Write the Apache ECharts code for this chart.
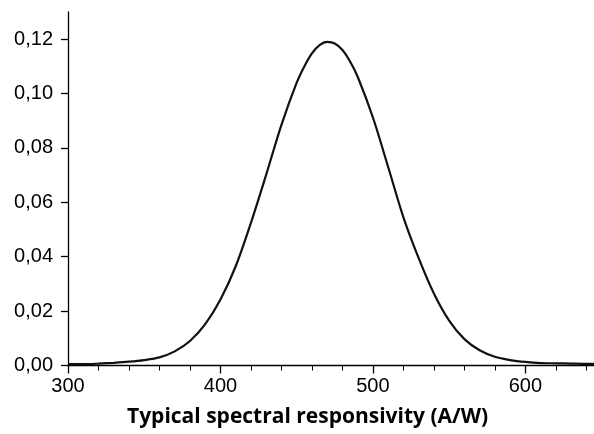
<!DOCTYPE html>
<html>
<head>
<meta charset="utf-8">
<script src="https://cdn.jsdelivr.net/npm/echarts@6/dist/echarts.min.js"></script>
<style>
  html, body { margin: 0; padding: 0; background: #fff; }
  #main { width: 594px; height: 434px; }
</style>
</head>
<body>
<div id="main"></div>
<script>
// wavelength (nm) and responsivity
var wavelengths = [300, 310, 320, 330, 340, 350, 360, 370, 380, 390, 400, 410, 420, 430, 440, 450, 455, 460, 465, 470,
  475, 480, 485, 490, 500, 510, 520, 530, 540, 550, 560, 570, 580, 590, 600, 610, 620, 630, 640, 645];
var responsivity = [0.0005, 0.0005, 0.0007, 0.0010, 0.0014, 0.0020, 0.0030, 0.0052, 0.0090, 0.0152, 0.0243, 0.0365, 0.0525, 0.0702, 0.0885, 0.1040, 0.1100, 0.1148, 0.1178, 0.1190,
  0.1184, 0.1160, 0.1118, 0.1062, 0.0912, 0.0730, 0.0545, 0.0395, 0.0265, 0.0165, 0.0097, 0.0056, 0.0032, 0.0020, 0.0013, 0.0009, 0.0008, 0.0007, 0.0006, 0.0006];
var xTicks = [300, 400, 500, 600];
var yTicks = [0, 0.02, 0.04, 0.06, 0.08, 0.10, 0.12];
var xTitle = 'Typical spectral responsivity (A/W)';

var chart = echarts.init(document.getElementById('main'), null, { renderer: 'canvas' });

var seriesData = [];
for (var i = 0; i < wavelengths.length; i++) {
  seriesData.push([wavelengths[i], responsivity[i]]);
}

var labelFont = '"Liberation Sans", Arial, sans-serif';

var option = {
  animation: false,
  backgroundColor: '#fff',
  title: {
    text: xTitle,
    left: 127,
    top: 407,
    padding: 0,
    textStyle: {
      fontFamily: '"Open Sans", sans-serif',
      fontWeight: 'bold',
      fontSize: 21,
      color: '#000'
    }
  },
  grid: {
    left: 68,
    right: 0,
    top: 12,
    bottom: 434 - 365.5
  },
  xAxis: {
    type: 'value',
    min: 300,
    max: 645,
    interval: 100,
    splitLine: { show: false },
    axisLine: { lineStyle: { color: '#000', width: 1.3 } },
    axisTick: {
      show: true,
      length: 8,
      customValues: xTicks,
      lineStyle: { color: '#000', width: 1.3 }
    },
    minorTick: {
      show: true,
      splitNumber: 5,
      length: 5,
      lineStyle: { color: '#000', width: 1 }
    },
    axisLabel: {
      customValues: xTicks,
      margin: 11,
      color: '#000',
      fontFamily: labelFont,
      fontSize: 20
    }
  },
  yAxis: {
    type: 'value',
    min: 0,
    max: 0.13,
    interval: 0.02,
    splitLine: { show: false },
    axisLine: { show: true, lineStyle: { color: '#000', width: 1.3 } },
    axisTick: {
      show: true,
      length: 7,
      customValues: yTicks,
      lineStyle: { color: '#000', width: 1.3 }
    },
    axisLabel: {
      customValues: yTicks,
      margin: 15,
      color: '#000',
      fontFamily: labelFont,
      fontSize: 20,
      formatter: function (v) {
        return v.toFixed(2).replace('.', ',');
      }
    }
  },
  series: [
    {
      type: 'line',
      data: seriesData,
      smooth: 0.3,
      showSymbol: false,
      lineStyle: { color: '#111', width: 2.2 }
    }
  ]
};

chart.setOption(option);
</script>
</body>
</html>
